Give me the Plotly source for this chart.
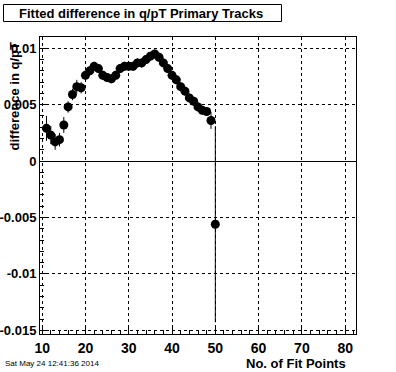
import plotly.graph_objects as go

# Data
fit_points = list(range(11, 51))
q_pt_diff = [0.0029, 0.0023, 0.0017, 0.0019, 0.0032, 0.0048, 0.0059, 0.0066, 0.0065, 0.0076,
             0.0080, 0.0084, 0.0082, 0.0076, 0.0074, 0.0073, 0.0076, 0.0082, 0.0084, 0.0084,
             0.0084, 0.0087, 0.0087, 0.0090, 0.0093, 0.0095, 0.0092, 0.0087, 0.0082, 0.0076,
             0.0072, 0.0066, 0.0062, 0.0056, 0.0053, 0.0048, 0.0045, 0.0044, 0.0036, -0.0056]
q_pt_err = [0.0011, 0.0008, 0.0007, 0.0006, 0.0007, 0.0005, 0.0005, 0.0006, 0.0005, 0.0004,
            0.0004, 0.0004, 0.0004, 0.0004, 0.0004, 0.0004, 0.0004, 0.0004, 0.0004, 0.0004,
            0.0004, 0.0004, 0.0004, 0.0004, 0.0004, 0.0004, 0.0004, 0.0004, 0.0004, 0.0004,
            0.0004, 0.0004, 0.0004, 0.0004, 0.0004, 0.0004, 0.0004, 0.0004, 0.00075, 0.0087]

x_tickvals = [10, 20, 30, 40, 50, 60, 70, 80]
x_ticktext = ["10", "20", "30", "40", "50", "60", "70", "80"]
y_tickvals = [0.01, 0.005, 0, -0.005, -0.01, -0.015]
y_ticktext = ["0.01", "0.005", "0", "-0.005", "-0.01", "-0.015"]

title_text = "Fitted difference in q/pT Primary Tracks"
x_title = "No. of Fit Points"
y_title = "difference in q/pT"
date_text = "Sat May 24 12:41:36 2014"

FONT = "Liberation Sans"

fig = go.Figure()
fig.add_trace(go.Scatter(
    x=fit_points, y=q_pt_diff, mode="markers",
    marker=dict(symbol="circle", size=9, color="black"),
    error_y=dict(type="data", array=q_pt_err, visible=True, color="black",
                 thickness=1, width=0),
    showlegend=False,
))

axis_common = dict(
    showline=True, linecolor="black", linewidth=1, mirror=True,
    ticks="inside", ticklen=8, tickcolor="black", tickwidth=1,
    showgrid=True, gridcolor="black", gridwidth=1, griddash="dot",
    automargin=False,
)

fig.update_xaxes(
    range=[9.5, 82.5], tickmode="array", tickvals=x_tickvals, ticktext=x_ticktext,
    zeroline=False, ticklabelstandoff=1,
    tickfont=dict(family=FONT, size=14, color="black", weight="bold"),
    minor=dict(dtick=2, tick0=0, ticks="inside", ticklen=4, tickcolor="black", showgrid=False),
    **axis_common,
)
fig.update_yaxes(
    range=[-0.01533, 0.0110], tickmode="array", tickvals=y_tickvals, ticktext=y_ticktext,
    zeroline=True, zerolinecolor="black", zerolinewidth=1,
    tickfont=dict(family=FONT, size=13, color="black", weight="bold"),
    minor=dict(dtick=0.001, tick0=0, ticks="inside", ticklen=4, tickcolor="black", showgrid=False),
    **axis_common,
)

fig.update_layout(
    width=396, height=372,
    margin=dict(l=40, r=40, t=37, b=38, autoexpand=False),
    paper_bgcolor="white", plot_bgcolor="white",
    font=dict(family=FONT, color="black"),
    shapes=[dict(type="rect", xref="paper", yref="paper",
                 x0=-0.1155, x1=0.7642, y0=1.0522, y1=1.1094,
                 line=dict(color="black", width=1), fillcolor="white")],
    annotations=[
        dict(text=title_text, xref="paper", yref="paper", x=-0.0737, y=1.0808,
             xanchor="left", yanchor="middle", showarrow=False,
             font=dict(family=FONT, size=13, color="black", weight="bold")),
        dict(text=x_title, xref="paper", yref="paper", x=0.9747, y=-0.101,
             xanchor="right", yanchor="middle", showarrow=False,
             font=dict(family=FONT, size=13, color="black", weight="bold")),
        dict(text=y_title, xref="paper", yref="paper", x=-0.0807, y=0.99,
             xanchor="center", yanchor="top", textangle=-90, showarrow=False,
             font=dict(family=FONT, size=13, color="black", weight="bold")),
        dict(text=date_text, xref="paper", yref="paper", x=-0.117, y=-0.101,
             xanchor="left", yanchor="middle", showarrow=False,
             font=dict(family=FONT, size=8, color="black")),
    ],
)

fig.write_html("out.html", config={"displayModeBar": False},
               post_script="document.body.style.margin='0';")
